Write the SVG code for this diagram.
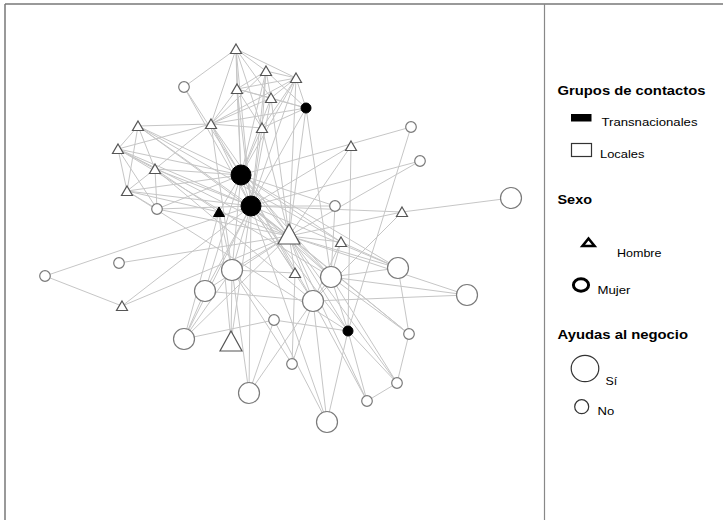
<svg xmlns="http://www.w3.org/2000/svg" width="723" height="520" viewBox="0 0 723 520">
<defs>
<style>
.e line{stroke:#c6c6c6;stroke-width:1}
.hc{fill:#fff;stroke:#7a7a7a;stroke-width:1.2}
.ht{fill:#fff;stroke:#555;stroke-width:1.2;stroke-linejoin:miter}
.kc{fill:#000;stroke:#000;stroke-width:1}
.kt{fill:#000;stroke:#000;stroke-width:1}
.frame{stroke:#777;stroke-width:1.5;fill:none}
.hd{font-family:"Liberation Sans",Arial,sans-serif;font-weight:bold;font-size:13.5px;fill:#000}
.lb{font-family:"Liberation Sans",Arial,sans-serif;font-size:11.5px;fill:#000}
</style>
<polygon id="ts" points="0,-5 5.5,4.5 -5.5,4.5"/>
<polygon id="tb" points="0,-11 11,9 -11,9"/>
</defs>
<rect width="723" height="520" fill="#fff"/>
<g id="frame">
<line class="frame" x1="5" y1="4" x2="723" y2="4"/>
<line class="frame" x1="5" y1="4" x2="5" y2="520"/>
<line x1="544.5" y1="4" x2="544.5" y2="520" stroke="#888" stroke-width="1.2"/>
</g>
<g id="connectors" class="e">
<line x1="236" y1="49" x2="266" y2="71"/>
<line x1="236" y1="49" x2="296" y2="78"/>
<line x1="236" y1="49" x2="237" y2="89"/>
<line x1="236" y1="49" x2="271" y2="98"/>
<line x1="236" y1="49" x2="262" y2="128"/>
<line x1="236" y1="49" x2="211" y2="124"/>
<line x1="236" y1="49" x2="241" y2="175"/>
<line x1="236" y1="49" x2="251" y2="206"/>
<line x1="236" y1="49" x2="184" y2="87"/>
<line x1="266" y1="71" x2="296" y2="78"/>
<line x1="266" y1="71" x2="237" y2="89"/>
<line x1="266" y1="71" x2="271" y2="98"/>
<line x1="266" y1="71" x2="211" y2="124"/>
<line x1="266" y1="71" x2="262" y2="128"/>
<line x1="266" y1="71" x2="241" y2="175"/>
<line x1="266" y1="71" x2="251" y2="206"/>
<line x1="266" y1="71" x2="306" y2="108"/>
<line x1="296" y1="78" x2="237" y2="89"/>
<line x1="296" y1="78" x2="271" y2="98"/>
<line x1="296" y1="78" x2="211" y2="124"/>
<line x1="296" y1="78" x2="262" y2="128"/>
<line x1="296" y1="78" x2="306" y2="108"/>
<line x1="296" y1="78" x2="241" y2="175"/>
<line x1="296" y1="78" x2="251" y2="206"/>
<line x1="296" y1="78" x2="289" y2="236"/>
<line x1="237" y1="89" x2="271" y2="98"/>
<line x1="237" y1="89" x2="211" y2="124"/>
<line x1="237" y1="89" x2="262" y2="128"/>
<line x1="237" y1="89" x2="241" y2="175"/>
<line x1="237" y1="89" x2="251" y2="206"/>
<line x1="237" y1="89" x2="306" y2="108"/>
<line x1="271" y1="98" x2="211" y2="124"/>
<line x1="271" y1="98" x2="306" y2="108"/>
<line x1="271" y1="98" x2="241" y2="175"/>
<line x1="271" y1="98" x2="251" y2="206"/>
<line x1="271" y1="98" x2="289" y2="236"/>
<line x1="262" y1="128" x2="211" y2="124"/>
<line x1="262" y1="128" x2="241" y2="175"/>
<line x1="262" y1="128" x2="251" y2="206"/>
<line x1="262" y1="128" x2="289" y2="236"/>
<line x1="262" y1="128" x2="306" y2="108"/>
<line x1="306" y1="108" x2="211" y2="124"/>
<line x1="306" y1="108" x2="251" y2="206"/>
<line x1="306" y1="108" x2="289" y2="236"/>
<line x1="306" y1="108" x2="331" y2="277"/>
<line x1="211" y1="124" x2="241" y2="175"/>
<line x1="211" y1="124" x2="251" y2="206"/>
<line x1="211" y1="124" x2="138" y2="126"/>
<line x1="211" y1="124" x2="118" y2="149"/>
<line x1="211" y1="124" x2="155" y2="169"/>
<line x1="211" y1="124" x2="289" y2="236"/>
<line x1="211" y1="124" x2="232" y2="270"/>
<line x1="138" y1="126" x2="118" y2="149"/>
<line x1="138" y1="126" x2="155" y2="169"/>
<line x1="138" y1="126" x2="127" y2="191"/>
<line x1="138" y1="126" x2="241" y2="175"/>
<line x1="138" y1="126" x2="251" y2="206"/>
<line x1="138" y1="126" x2="289" y2="236"/>
<line x1="138" y1="126" x2="341" y2="242"/>
<line x1="118" y1="149" x2="155" y2="169"/>
<line x1="118" y1="149" x2="127" y2="191"/>
<line x1="118" y1="149" x2="241" y2="175"/>
<line x1="118" y1="149" x2="251" y2="206"/>
<line x1="118" y1="149" x2="157" y2="209"/>
<line x1="118" y1="149" x2="289" y2="236"/>
<line x1="118" y1="149" x2="331" y2="277"/>
<line x1="155" y1="169" x2="127" y2="191"/>
<line x1="155" y1="169" x2="241" y2="175"/>
<line x1="155" y1="169" x2="251" y2="206"/>
<line x1="155" y1="169" x2="157" y2="209"/>
<line x1="155" y1="169" x2="219" y2="212"/>
<line x1="155" y1="169" x2="313" y2="301"/>
<line x1="127" y1="191" x2="157" y2="209"/>
<line x1="127" y1="191" x2="241" y2="175"/>
<line x1="127" y1="191" x2="251" y2="206"/>
<line x1="127" y1="191" x2="219" y2="212"/>
<line x1="127" y1="191" x2="348" y2="331"/>
<line x1="157" y1="209" x2="241" y2="175"/>
<line x1="157" y1="209" x2="251" y2="206"/>
<line x1="157" y1="209" x2="289" y2="236"/>
<line x1="184" y1="87" x2="241" y2="175"/>
<line x1="184" y1="87" x2="251" y2="206"/>
<line x1="45" y1="276" x2="122" y2="306"/>
<line x1="45" y1="276" x2="251" y2="206"/>
<line x1="119" y1="263" x2="289" y2="236"/>
<line x1="122" y1="306" x2="251" y2="206"/>
<line x1="122" y1="306" x2="289" y2="236"/>
<line x1="232" y1="270" x2="241" y2="175"/>
<line x1="232" y1="270" x2="251" y2="206"/>
<line x1="232" y1="270" x2="289" y2="236"/>
<line x1="232" y1="270" x2="219" y2="212"/>
<line x1="232" y1="270" x2="231" y2="342"/>
<line x1="232" y1="270" x2="295" y2="273"/>
<line x1="232" y1="270" x2="274" y2="320"/>
<line x1="205" y1="291" x2="241" y2="175"/>
<line x1="205" y1="291" x2="251" y2="206"/>
<line x1="205" y1="291" x2="313" y2="301"/>
<line x1="205" y1="291" x2="184" y2="339"/>
<line x1="205" y1="291" x2="289" y2="236"/>
<line x1="184" y1="339" x2="251" y2="206"/>
<line x1="184" y1="339" x2="219" y2="212"/>
<line x1="184" y1="339" x2="232" y2="270"/>
<line x1="184" y1="339" x2="274" y2="320"/>
<line x1="184" y1="339" x2="289" y2="236"/>
<line x1="231" y1="342" x2="251" y2="206"/>
<line x1="231" y1="342" x2="219" y2="212"/>
<line x1="249" y1="393" x2="232" y2="270"/>
<line x1="249" y1="393" x2="274" y2="320"/>
<line x1="249" y1="393" x2="313" y2="301"/>
<line x1="249" y1="393" x2="251" y2="206"/>
<line x1="292" y1="364" x2="295" y2="273"/>
<line x1="292" y1="364" x2="313" y2="301"/>
<line x1="292" y1="364" x2="232" y2="270"/>
<line x1="327" y1="422" x2="348" y2="331"/>
<line x1="327" y1="422" x2="313" y2="301"/>
<line x1="327" y1="422" x2="251" y2="206"/>
<line x1="327" y1="422" x2="274" y2="320"/>
<line x1="367" y1="401" x2="313" y2="301"/>
<line x1="367" y1="401" x2="348" y2="331"/>
<line x1="367" y1="401" x2="397" y2="383"/>
<line x1="367" y1="401" x2="289" y2="236"/>
<line x1="397" y1="383" x2="409" y2="334"/>
<line x1="397" y1="383" x2="348" y2="331"/>
<line x1="397" y1="383" x2="331" y2="277"/>
<line x1="397" y1="383" x2="289" y2="236"/>
<line x1="409" y1="334" x2="398" y2="268"/>
<line x1="409" y1="334" x2="289" y2="236"/>
<line x1="409" y1="334" x2="331" y2="277"/>
<line x1="409" y1="334" x2="251" y2="206"/>
<line x1="348" y1="331" x2="351" y2="146"/>
<line x1="348" y1="331" x2="289" y2="236"/>
<line x1="348" y1="331" x2="251" y2="206"/>
<line x1="348" y1="331" x2="331" y2="277"/>
<line x1="348" y1="331" x2="274" y2="320"/>
<line x1="398" y1="268" x2="289" y2="236"/>
<line x1="398" y1="268" x2="251" y2="206"/>
<line x1="398" y1="268" x2="331" y2="277"/>
<line x1="398" y1="268" x2="341" y2="242"/>
<line x1="398" y1="268" x2="241" y2="175"/>
<line x1="467" y1="295" x2="289" y2="236"/>
<line x1="467" y1="295" x2="331" y2="277"/>
<line x1="467" y1="295" x2="313" y2="301"/>
<line x1="331" y1="277" x2="289" y2="236"/>
<line x1="331" y1="277" x2="241" y2="175"/>
<line x1="331" y1="277" x2="251" y2="206"/>
<line x1="331" y1="277" x2="341" y2="242"/>
<line x1="331" y1="277" x2="313" y2="301"/>
<line x1="331" y1="277" x2="335" y2="206"/>
<line x1="335" y1="206" x2="251" y2="206"/>
<line x1="335" y1="206" x2="241" y2="175"/>
<line x1="341" y1="242" x2="241" y2="175"/>
<line x1="341" y1="242" x2="289" y2="236"/>
<line x1="341" y1="242" x2="313" y2="301"/>
<line x1="295" y1="273" x2="251" y2="206"/>
<line x1="295" y1="273" x2="289" y2="236"/>
<line x1="295" y1="273" x2="241" y2="175"/>
<line x1="313" y1="301" x2="241" y2="175"/>
<line x1="313" y1="301" x2="251" y2="206"/>
<line x1="313" y1="301" x2="289" y2="236"/>
<line x1="411" y1="127" x2="241" y2="175"/>
<line x1="411" y1="127" x2="348" y2="331"/>
<line x1="420" y1="161" x2="251" y2="206"/>
<line x1="420" y1="161" x2="289" y2="236"/>
<line x1="511" y1="198" x2="402" y2="212"/>
<line x1="402" y1="212" x2="251" y2="206"/>
<line x1="402" y1="212" x2="289" y2="236"/>
<line x1="402" y1="212" x2="313" y2="301"/>
<line x1="351" y1="146" x2="251" y2="206"/>
<line x1="351" y1="146" x2="289" y2="236"/>
<line x1="241" y1="175" x2="251" y2="206"/>
<line x1="241" y1="175" x2="289" y2="236"/>
<line x1="251" y1="206" x2="289" y2="236"/>
<line x1="219" y1="212" x2="241" y2="175"/>
<line x1="219" y1="212" x2="289" y2="236"/>
</g>
<g id="nodes">
<g id="n-t1"><use href="#ts" class="ht" x="236" y="49"/></g>
<g id="n-t2"><use href="#ts" class="ht" x="266" y="71"/></g>
<g id="n-t3"><use href="#ts" class="ht" x="296" y="78"/></g>
<g id="n-t4"><use href="#ts" class="ht" x="237" y="89"/></g>
<g id="n-t5"><use href="#ts" class="ht" x="271" y="98"/></g>
<g id="n-t6"><use href="#ts" class="ht" x="138" y="126"/></g>
<g id="n-t7"><use href="#ts" class="ht" x="211" y="124"/></g>
<g id="n-t8"><use href="#ts" class="ht" x="262" y="128"/></g>
<g id="n-t9"><use href="#ts" class="ht" x="118" y="149"/></g>
<g id="n-t10"><use href="#ts" class="ht" x="155" y="169"/></g>
<g id="n-t11"><use href="#ts" class="ht" x="127" y="191"/></g>
<g id="n-t12"><use href="#ts" class="ht" x="351" y="146"/></g>
<g id="n-t13"><use href="#ts" class="ht" x="402" y="212"/></g>
<g id="n-t14"><use href="#ts" class="ht" x="341" y="242"/></g>
<g id="n-t15"><use href="#ts" class="ht" x="295" y="273"/></g>
<g id="n-t16"><use href="#ts" class="ht" x="122" y="306"/></g>
<g id="n-bt1"><use href="#tb" class="ht" x="289" y="235"/></g>
<g id="n-bt2"><use href="#tb" class="ht" x="231" y="342"/></g>
<g id="n-kt"><use href="#ts" class="kt" x="219" y="212"/></g>
<g id="n-c1"><circle class="hc" cx="184" cy="87" r="5.3"/></g>
<g id="n-c2"><circle class="hc" cx="411" cy="127" r="5.3"/></g>
<g id="n-c3"><circle class="hc" cx="420" cy="161" r="5.3"/></g>
<g id="n-c4"><circle class="hc" cx="157" cy="209" r="5.3"/></g>
<g id="n-c5"><circle class="hc" cx="335" cy="206" r="5.3"/></g>
<g id="n-c6"><circle class="hc" cx="119" cy="263" r="5.3"/></g>
<g id="n-c7"><circle class="hc" cx="45" cy="276" r="5.3"/></g>
<g id="n-c8"><circle class="hc" cx="274" cy="320" r="5.3"/></g>
<g id="n-c9"><circle class="hc" cx="409" cy="334" r="5.3"/></g>
<g id="n-c10"><circle class="hc" cx="292" cy="364" r="5.3"/></g>
<g id="n-c11"><circle class="hc" cx="397" cy="383" r="5.3"/></g>
<g id="n-c12"><circle class="hc" cx="367" cy="401" r="5.3"/></g>
<g id="n-C1"><circle class="hc" cx="511" cy="198" r="10.5"/></g>
<g id="n-C2"><circle class="hc" cx="232" cy="270" r="10.5"/></g>
<g id="n-C3"><circle class="hc" cx="205" cy="291" r="10.5"/></g>
<g id="n-C4"><circle class="hc" cx="331" cy="277" r="10.5"/></g>
<g id="n-C5"><circle class="hc" cx="398" cy="268" r="10.5"/></g>
<g id="n-C6"><circle class="hc" cx="467" cy="295" r="10.5"/></g>
<g id="n-C7"><circle class="hc" cx="313" cy="301" r="10.5"/></g>
<g id="n-C8"><circle class="hc" cx="184" cy="339" r="10.5"/></g>
<g id="n-C9"><circle class="hc" cx="249" cy="393" r="10.5"/></g>
<g id="n-C10"><circle class="hc" cx="327" cy="422" r="10.5"/></g>
<g id="n-K1"><circle class="kc" cx="241" cy="175" r="10"/></g>
<g id="n-K2"><circle class="kc" cx="251" cy="206" r="10"/></g>
<g id="n-K3"><circle class="kc" cx="306" cy="108" r="5"/></g>
<g id="n-K4"><circle class="kc" cx="348" cy="331" r="5"/></g>
</g>
<g id="legend">
<text class="hd" x="557.5" y="95" textLength="148" lengthAdjust="spacingAndGlyphs">Grupos de contactos</text>
<rect x="571" y="114" width="20.5" height="7.5" fill="#000"/>
<text class="lb" x="601.5" y="126" textLength="96" lengthAdjust="spacingAndGlyphs">Transnacionales</text>
<rect x="571.5" y="143.5" width="20" height="13" fill="#fff" stroke="#333" stroke-width="1.2"/>
<text class="lb" x="600" y="157.5" textLength="44.5" lengthAdjust="spacingAndGlyphs">Locales</text>
<text class="hd" x="557.5" y="203.5" textLength="34.5" lengthAdjust="spacingAndGlyphs">Sexo</text>
<polygon points="588.5,238.5 594.5,246 582.5,246" fill="#fff" stroke="#000" stroke-width="2.6"/>
<text class="lb" x="617" y="257" textLength="44.5" lengthAdjust="spacingAndGlyphs">Hombre</text>
<ellipse cx="581" cy="285" rx="7.6" ry="6.2" fill="none" stroke="#000" stroke-width="3"/>
<text class="lb" x="597.5" y="293.5" textLength="33" lengthAdjust="spacingAndGlyphs">Mujer</text>
<text class="hd" x="557.5" y="338.5" textLength="130.5" lengthAdjust="spacingAndGlyphs">Ayudas al negocio</text>
<ellipse cx="585" cy="368.5" rx="13.8" ry="13.2" fill="#fff" stroke="#333" stroke-width="1.2"/>
<text class="lb" x="605.5" y="385" textLength="11.7" lengthAdjust="spacingAndGlyphs">Sí</text>
<circle cx="581.7" cy="406.7" r="7" fill="#fff" stroke="#333" stroke-width="1.2"/>
<text class="lb" x="597.5" y="415" textLength="16.7" lengthAdjust="spacingAndGlyphs">No</text>
</g>
</svg>
